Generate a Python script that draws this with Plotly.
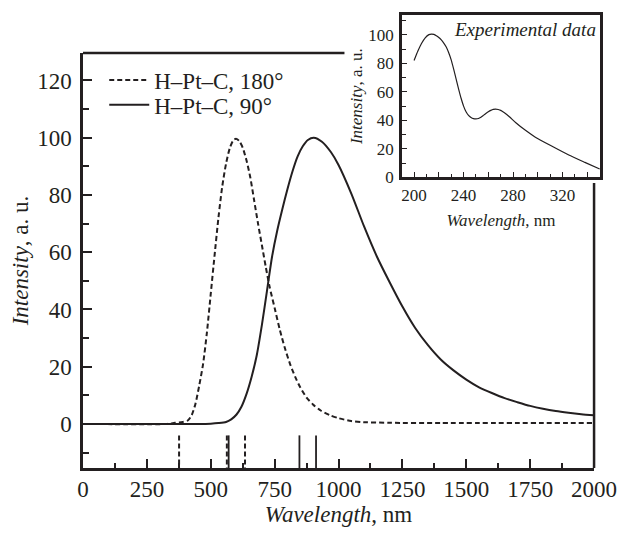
import plotly.graph_objects as go

# Kinakalkulang spectra (nm, a. u.)
wl_180 = [0, 330, 360, 390, 410, 425, 440, 455, 470, 485, 500, 515, 530, 545, 560, 575, 590, 600,
          612, 625, 640, 655, 670, 685, 700, 715, 730, 750, 770, 790, 810, 830, 850, 875, 900,
          930, 965, 1000, 1050, 1100, 1200, 1400, 2000]
int_180 = [0, 0, 0.4, 0.7, 1.2, 3, 7, 13.5, 21, 32, 45.5, 59, 72, 83, 91, 96.5, 99.3, 99.6,
           98.8, 96.5, 92, 86, 78, 70, 62.5, 55, 48, 40.5, 33, 26.5, 21, 16.5, 12.8, 9.2, 6.8,
           4.7, 3.1, 2.0, 1.0, 0.6, 0.4, 0.3, 0.3]

wl_90 = [0, 450, 500, 530, 560, 580, 600, 620, 640, 660, 680, 700, 720, 740, 760, 780, 800,
         820, 840, 860, 880, 903, 935, 970, 1000, 1050, 1100, 1150, 1200, 1250, 1300, 1350,
         1400, 1450, 1500, 1550, 1600, 1650, 1700, 1750, 1800, 1850, 1900, 1950, 2000]
int_90 = [0, 0, 0.1, 0.3, 0.7, 1.6, 3.2, 6, 10.5, 16.5, 24, 34.5, 46.5, 58.5, 67.5, 75, 82,
          88.3, 93.5, 97, 99.2, 100, 98.6, 95, 90.5, 80.5, 69, 58.5, 49.5, 41, 33.5, 27.5,
          22.5, 18.7, 15.5, 12.8, 10.8, 9, 7.6, 6.3, 5.3, 4.5, 3.9, 3.4, 3.0]

# Mga transition (stick lines)
sticks_180 = [376, 563, 634]
sticks_90 = [570, 847, 912]
stick_top = -4
stick_bottom = -15.4

# Experimental data (inset)
wl_exp = [200, 203, 206, 209, 212, 214, 216, 218, 220, 222, 224, 226, 228, 230, 232, 234, 236,
          238, 240, 242, 244, 246, 248, 250, 252, 254, 256, 258, 260, 262, 264, 266, 268,
          270, 273, 277, 282, 290, 298, 310, 325, 338, 350]
int_exp = [82, 88.5, 94, 98, 100.2, 100.6, 100.4, 99.5, 98.2, 96.5, 94.3, 91.5, 87.5, 82.5, 76,
           69, 62, 55.5, 50, 46, 43.5, 42, 41.2, 41, 41.3, 42.2, 43.5, 44.8, 46, 47, 47.7, 47.9,
           47.6, 47, 45.3, 42.5, 38.5, 33, 28.2, 22.5, 15.7, 10.5, 5.8]

FONT = 'Liberation Serif, Times New Roman, DejaVu Serif, serif'
INK = '#231f20'


def stick_xy(xs):
    x, y = [], []
    for v in xs:
        x += [v, v, None]
        y += [stick_top, stick_bottom, None]
    return x, y


fig = go.Figure()

fig.add_trace(go.Scatter(x=wl_180, y=int_180, name='H–Pt–C, 180°', mode='lines', legend='legend',
                         line=dict(color=INK, width=2, dash='5px,3px', shape='spline', smoothing=0.7)))
fig.add_trace(go.Scatter(x=wl_90, y=int_90, name='H–Pt–C, 90°', mode='lines', legend='legend2',
                         line=dict(color=INK, width=2, shape='spline', smoothing=0.7)))

sx, sy = stick_xy(sticks_180)
fig.add_trace(go.Scatter(x=sx, y=sy, mode='lines', showlegend=False,
                         line=dict(color=INK, width=2, dash='5px,3px')))
sx, sy = stick_xy(sticks_90)
fig.add_trace(go.Scatter(x=sx, y=sy, mode='lines', showlegend=False,
                         line=dict(color=INK, width=1.8)))

fig.add_trace(go.Scatter(x=wl_exp, y=int_exp, mode='lines', showlegend=False,
                         xaxis='x2', yaxis='y2',
                         line=dict(color=INK, width=1.2, shape='spline', smoothing=0.5)))

tick_font = dict(family=FONT, size=23, color=INK)
inset_font = dict(family=FONT, size=17, color=INK)
legend_font = dict(family=FONT, size=23, color=INK)

# Ang pahina ay may 8px na body margin, kaya mas maliit ng 8px ang figure.
fig.update_layout(
    width=618, height=526,
    margin=dict(l=75, r=20, t=2, b=66),
    paper_bgcolor='white', plot_bgcolor='white',
    font=dict(family=FONT, color=INK),
    showlegend=True,
    legend=dict(x=0.041, y=0.847, xanchor='left', yanchor='middle', itemwidth=40,
                font=legend_font, bgcolor='rgba(0,0,0,0)'),
    legend2=dict(x=0.041, y=0.793, xanchor='left', yanchor='middle', itemwidth=40,
                 font=legend_font, bgcolor='rgba(0,0,0,0)'),
    xaxis=dict(domain=[0, 0.9866], range=[0, 2000], anchor='y',
               tickmode='linear', tick0=0, dtick=250,
               ticks='inside', ticklen=9, tickwidth=1.5, tickcolor=INK,
               minor=dict(ticks='inside', ticklen=5, tickwidth=1.5, dtick=125, tick0=0, tickcolor=INK),
               showline=True, linewidth=2.5, linecolor=INK, mirror=False,
               showgrid=False, zeroline=False,
               tickfont=tick_font, ticklabelstandoff=-1,
               title=dict(text='<i>Wavelength</i>, nm', font=tick_font, standoff=5)),
    yaxis=dict(domain=[0, 0.9061], range=[-15.4, 129.6], anchor='x',
               tickvals=[0, 20, 40, 60, 80, 100, 120],
               ticks='inside', ticklen=9, tickwidth=1.5, tickcolor=INK,
               minor=dict(ticks='inside', ticklen=6, tickwidth=1.5, dtick=10, tick0=0, tickcolor=INK),
               showline=True, linewidth=2.5, linecolor=INK, mirror=False,
               showgrid=False, zeroline=False,
               tickfont=tick_font, ticklabelstandoff=4,
               title=dict(text='<i>Intensity</i>, a. u.', font=tick_font, standoff=6)),
    xaxis2=dict(domain=[0.6157, 0.998], range=[190.2, 350.2], anchor='y2',
                tickvals=[200, 220, 240, 260, 280, 300, 320, 340],
                ticktext=['200', '', '240', '', '280', '', '320', ''],
                ticks='inside', ticklen=6, tickwidth=1.2, tickcolor=INK,
                minor=dict(ticks='inside', ticklen=3.5, tickwidth=1.2, dtick=10, tick0=200, tickcolor=INK),
                showline=True, linewidth=2.5, linecolor=INK, mirror=True,
                showgrid=False, zeroline=False,
                tickfont=inset_font, ticklabelstandoff=1,
                title=dict(text='<i>Wavelength</i>, nm', font=inset_font, standoff=10)),
    yaxis2=dict(domain=[0.6347, 0.9891], range=[0, 114], anchor='x2',
                tickvals=[0, 20, 40, 60, 80, 100],
                ticks='inside', ticklen=5, tickwidth=1.2, tickcolor=INK,
                minor=dict(ticks='inside', ticklen=4, tickwidth=1.2, dtick=10, tick0=0, tickcolor=INK),
                showline=True, linewidth=2.5, linecolor=INK, mirror=True,
                showgrid=False, zeroline=False,
                tickfont=inset_font, ticklabelstandoff=2,
                title=dict(text='<i>Intensity</i>, a. u.', font=inset_font, standoff=2)),
)

# Itaas at kanang gilid ng main frame (natatakpan ng inset sa kanang itaas)
fig.add_shape(type='line', xref='x domain', yref='y domain', x0=0, x1=0.5116, y0=1, y1=1,
              line=dict(color=INK, width=2.5))
fig.add_shape(type='line', xref='x domain', yref='y domain', x0=1, x1=1, y0=0, y1=0.6867,
              line=dict(color=INK, width=2.5))

fig.add_annotation(text='<i>Experimental data</i>', xref='x2 domain', yref='y2 domain',
                   x=0.99, y=0.91, xanchor='right', yanchor='middle', showarrow=False,
                   font=dict(family=FONT, size=19, color=INK))

fig.write_html('out.html')
